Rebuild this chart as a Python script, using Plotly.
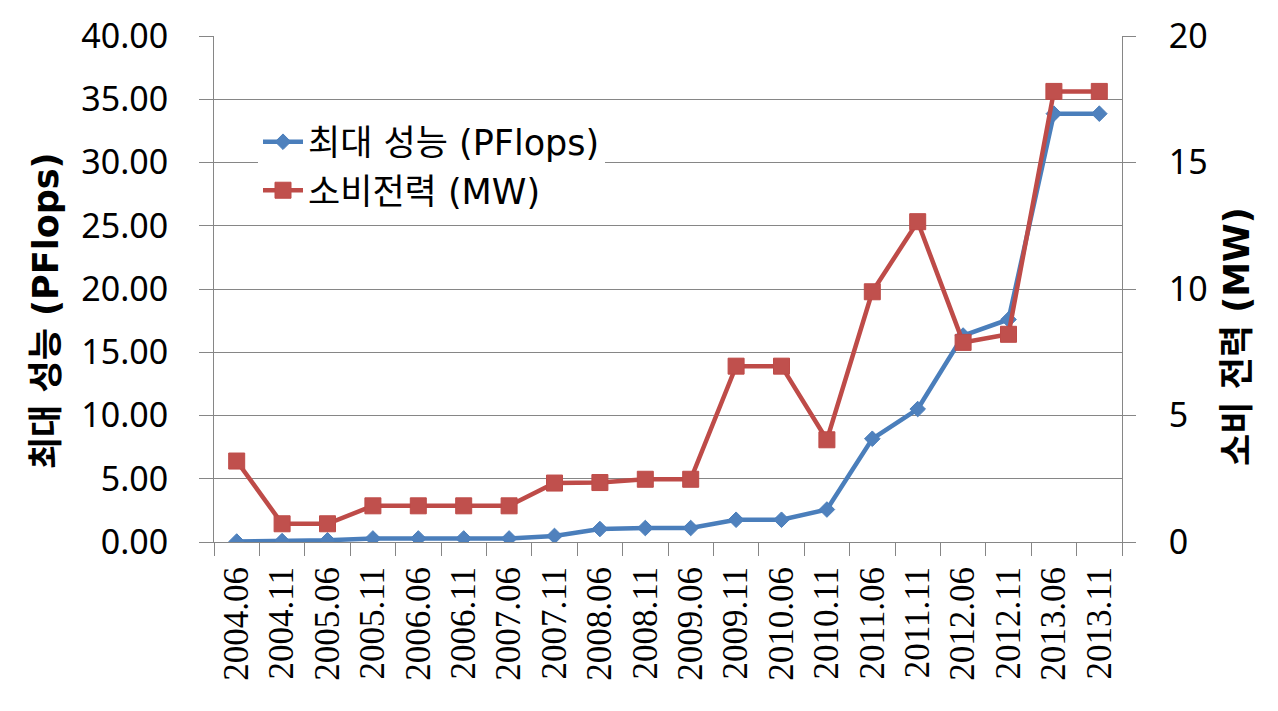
import plotly.graph_objects as go

categories = ["2004.06", "2004.11", "2005.06", "2005.11", "2006.06", "2006.11",
              "2007.06", "2007.11", "2008.06", "2008.11", "2009.06", "2009.11",
              "2010.06", "2010.11", "2011.06", "2011.11", "2012.06", "2012.11",
              "2013.06", "2013.11"]
perf_pflops = [0.036, 0.071, 0.137, 0.281, 0.281, 0.281, 0.281, 0.478, 1.026, 1.105,
               1.105, 1.759, 1.759, 2.566, 8.162, 10.51, 16.32, 17.59, 33.86, 33.86]
power_mw = [3.2, 0.72, 0.72, 1.43, 1.43, 1.43, 1.43, 2.33, 2.35, 2.48,
            2.48, 6.95, 6.95, 4.04, 9.89, 12.66, 7.89, 8.21, 17.81, 17.81]

name_perf = "최대 성능 (PFlops)"
name_power = "소비전력 (MW)"
left_title = "최대 성능 (PFlops)"
right_title = "소비 전력 (MW)"
left_ticks = [0, 5, 10, 15, 20, 25, 30, 35, 40]
right_ticks = [0, 5, 10, 15, 20]

GRID = "#868686"
W, H = 1278, 711
L, R, T, B = 214, 1122, 33, 542.5
KFONT = "DejaVu Sans, Noto Sans CJK KR"

fig = go.Figure()
fig.add_trace(go.Scatter(
    x=categories, y=perf_pflops, name=name_perf, mode="lines+markers",
    line=dict(color="#4A7EBB", width=4.5),
    marker=dict(symbol="diamond", size=12, color="#4F81BD", line=dict(color="#4A7EBB", width=1)),
    yaxis="y"))
fig.add_trace(go.Scatter(
    x=categories, y=power_mw, name=name_power, mode="lines+markers",
    line=dict(color="#BE4B48", width=4.5),
    marker=dict(symbol="square", size=16, color="#C0504D", line=dict(color="#BE4B48", width=1)),
    yaxis="y2"))

tickfont = dict(family="Noto Sans", size=34, color="black")

fig.update_layout(
    width=W, height=H,
    margin=dict(l=L, r=W - R, t=T, b=H - B, pad=0),
    plot_bgcolor="white", paper_bgcolor="white",
    showlegend=True,
    legend=dict(
        x=(258 - L) / (R - L), y=(B - 110) / (B - T), xanchor="left", yanchor="top",
        bgcolor="white", borderwidth=0,
        font=dict(family=KFONT, size=35, color="black"),
        tracegroupgap=0, itemwidth=40,
    ),
    xaxis=dict(
        type="category", range=[-0.5, len(categories) - 0.5],
        tickson="boundaries", ticks="outside", ticklen=13, tickcolor=GRID, tickwidth=1,
        showgrid=False, showline=True, linecolor=GRID, linewidth=1,
        tickangle=-90, tickfont=dict(family="Liberation Serif", size=35, color="black"),
        ticklabelstandoff=10,
    ),
    yaxis=dict(
        range=[0, 40], tickvals=left_ticks, tickformat=".2f",
        ticks="outside", ticklen=14, tickcolor=GRID, tickwidth=1,
        showgrid=True, gridcolor=GRID, gridwidth=1,
        showline=True, linecolor=GRID, linewidth=1,
        zeroline=False, tickfont=tickfont, ticklabelstandoff=24,
    ),
    yaxis2=dict(
        range=[0, 20], tickvals=right_ticks, overlaying="y", side="right",
        ticks="outside", ticklen=13, tickcolor=GRID, tickwidth=1,
        showgrid=False, showline=True, linecolor=GRID, linewidth=1,
        zeroline=False, tickfont=tickfont, ticklabelstandoff=26,
    ),
    annotations=[
        dict(text="<b>" + left_title + "</b>", textangle=-90, showarrow=False,
             xref="paper", yref="paper",
             x=(46 - L) / (R - L), y=(B - 310) / (B - T), xanchor="center", yanchor="middle",
             font=dict(family=KFONT, size=35, color="black")),
        dict(text="<b>" + right_title + "</b>", textangle=-90, showarrow=False,
             xref="paper", yref="paper",
             x=(1237 - L) / (R - L), y=(B - 336) / (B - T), xanchor="center", yanchor="middle",
             font=dict(family=KFONT, size=35, color="black")),
    ],
)

fig.write_html("out.html", config={"displayModeBar": False},
               post_script="document.body.style.margin='0';document.body.style.overflow='hidden';")
